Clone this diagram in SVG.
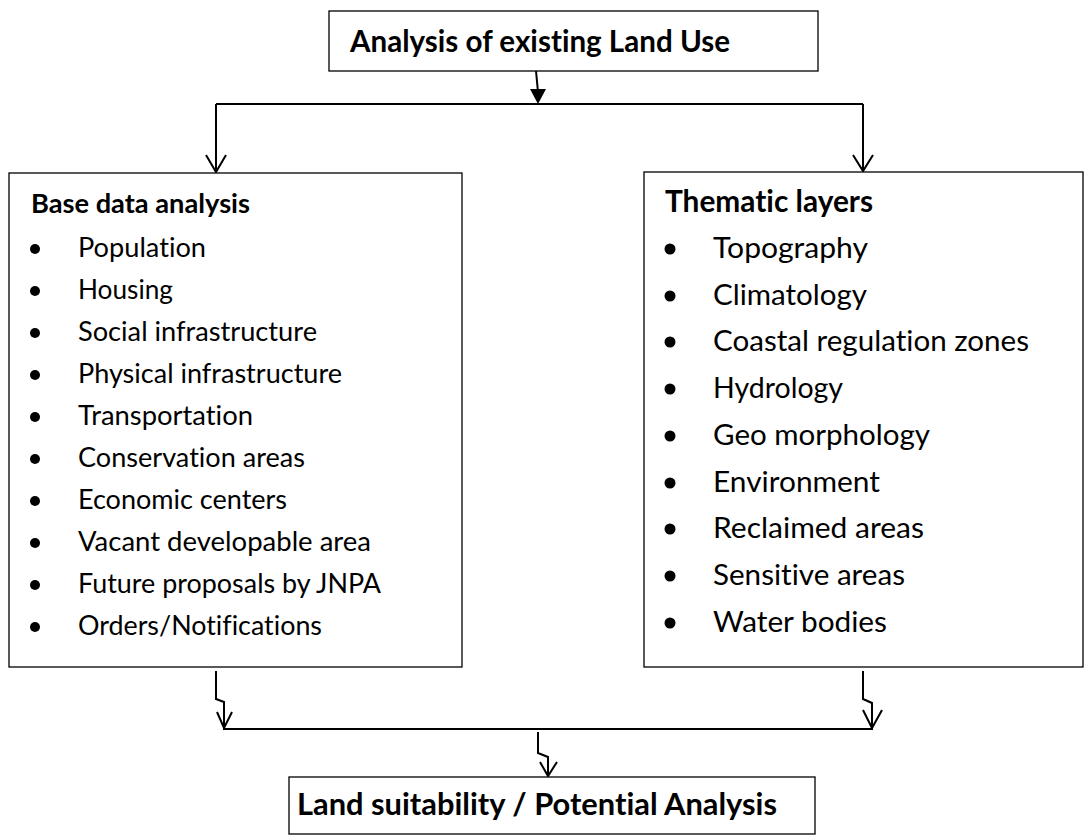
<svg xmlns="http://www.w3.org/2000/svg" width="1089" height="836" viewBox="0 0 1089 836">
<style>
.box{fill:#fff;stroke:#000;stroke-width:1.3}
.ln{fill:none;stroke:#000;stroke-width:2}
.hd{font-family:Lato,"Open Sans","Liberation Sans",sans-serif;font-weight:bold;fill:#000;font-variant-ligatures:none;font-feature-settings:"liga" 0,"clig" 0,"dlig" 0}
.tx{font-family:Lato,"Open Sans","Liberation Sans",sans-serif;fill:#000;font-variant-ligatures:none;font-feature-settings:"liga" 0,"clig" 0,"dlig" 0}
.l{font-size:27px}
.r{font-size:29.5px}
</style>
<rect width="1089" height="836" fill="#fff"/>
<g id="connectors">
<path class="ln" d="M536,71 L538,92"/>
<polygon points="530,89 546,89 538,104" fill="#000"/>
<path class="ln" d="M216,104 H863"/>
<path class="ln" d="M216,104 V172 M206,155 L216,172 L226,155"/>
<path class="ln" d="M863,104 V171 M853,155 L863,171 L873,155"/>
<path class="ln" d="M216,671 V699 L224,702 V728 M217,712 L224,728 L232,712"/>
<path class="ln" d="M863,671 V699 L872,703 V728 M863,710 L872,728 L882,710"/>
<path class="ln" d="M223,729 H873"/>
<path class="ln" d="M538,732 V753 L548,757 V776 M540,762 L548,776 L557,762"/>
</g>
<g id="top">
<rect class="box" x="329" y="11" width="489" height="60"/>
<text class="hd" x="350" y="52" font-size="29.5" textLength="380" lengthAdjust="spacingAndGlyphs">Analysis of existing Land Use</text>
</g>
<g id="base">
<rect class="box" x="9" y="173" width="453" height="494"/>
<text class="hd l" x="31" y="213" textLength="219" lengthAdjust="spacingAndGlyphs">Base data analysis</text>
<g fill="#000">
<circle cx="35" cy="249" r="5"/><circle cx="35" cy="291" r="5"/><circle cx="35" cy="333" r="5"/><circle cx="35" cy="375" r="5"/><circle cx="35" cy="417" r="5"/><circle cx="35" cy="459" r="5"/><circle cx="35" cy="501" r="5"/><circle cx="35" cy="543" r="5"/><circle cx="35" cy="585" r="5"/><circle cx="35" cy="627" r="5"/>
</g>
<text class="tx l" x="78" y="257" textLength="128" lengthAdjust="spacingAndGlyphs">Population</text>
<text class="tx l" x="78" y="299" textLength="95" lengthAdjust="spacingAndGlyphs">Housing</text>
<text class="tx l" x="78" y="341" textLength="239" lengthAdjust="spacingAndGlyphs">Social infrastructure</text>
<text class="tx l" x="78" y="383" textLength="264" lengthAdjust="spacingAndGlyphs">Physical infrastructure</text>
<text class="tx l" x="78" y="425" textLength="175" lengthAdjust="spacingAndGlyphs">Transportation</text>
<text class="tx l" x="78" y="467" textLength="227" lengthAdjust="spacingAndGlyphs">Conservation areas</text>
<text class="tx l" x="78" y="509" textLength="209" lengthAdjust="spacingAndGlyphs">Economic centers</text>
<text class="tx l" x="78" y="551" textLength="293" lengthAdjust="spacingAndGlyphs">Vacant developable area</text>
<text class="tx l" x="78" y="593" textLength="303" lengthAdjust="spacingAndGlyphs">Future proposals by JNPA</text>
<text class="tx l" x="78" y="635" textLength="244" lengthAdjust="spacingAndGlyphs">Orders/Notifications</text>
</g>
<g id="thematic">
<rect class="box" x="644" y="172" width="439" height="495"/>
<text class="hd r" x="665" y="212" textLength="208" lengthAdjust="spacingAndGlyphs">Thematic layers</text>
<g fill="#000">
<circle cx="670" cy="249" r="5.5"/><circle cx="670" cy="296" r="5.5"/><circle cx="670" cy="342" r="5.5"/><circle cx="670" cy="389" r="5.5"/><circle cx="670" cy="436" r="5.5"/><circle cx="670" cy="483" r="5.5"/><circle cx="670" cy="529" r="5.5"/><circle cx="670" cy="576" r="5.5"/><circle cx="670" cy="623" r="5.5"/>
</g>
<text class="tx r" x="713" y="258" textLength="155" lengthAdjust="spacingAndGlyphs">Topography</text>
<text class="tx r" x="713" y="305" textLength="154" lengthAdjust="spacingAndGlyphs">Climatology</text>
<text class="tx r" x="713" y="351" textLength="316" lengthAdjust="spacingAndGlyphs">Coastal regulation zones</text>
<text class="tx r" x="713" y="398" textLength="130" lengthAdjust="spacingAndGlyphs">Hydrology</text>
<text class="tx r" x="713" y="445" textLength="217" lengthAdjust="spacingAndGlyphs">Geo morphology</text>
<text class="tx r" x="713" y="492" textLength="167" lengthAdjust="spacingAndGlyphs">Environment</text>
<text class="tx r" x="713" y="538" textLength="211" lengthAdjust="spacingAndGlyphs">Reclaimed areas</text>
<text class="tx r" x="713" y="585" textLength="192" lengthAdjust="spacingAndGlyphs">Sensitive areas</text>
<text class="tx r" x="713" y="632" textLength="174" lengthAdjust="spacingAndGlyphs">Water bodies</text>
</g>
<g id="suitability">
<rect class="box" x="289" y="777" width="526" height="57"/>
<text class="hd" x="297" y="815" font-size="29.5" textLength="480" lengthAdjust="spacingAndGlyphs">Land suitability / Potential Analysis</text>
</g>
</svg>
